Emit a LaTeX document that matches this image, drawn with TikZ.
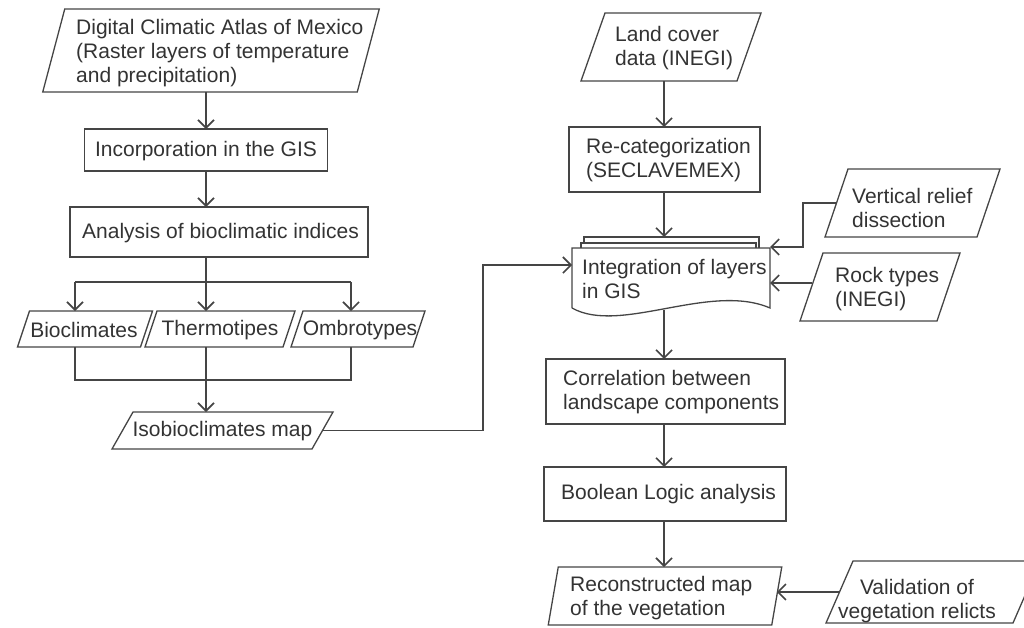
\documentclass[tikz,border=0pt]{standalone}
\usepackage{fontspec}
\setmainfont{Liberation Sans}
\usetikzlibrary{arrows.meta}
\definecolor{ink}{HTML}{333333}
\definecolor{edgec}{HTML}{454545}
\newcommand\paraoutline[2]{\draw[ln] ([xshift=#2pt]#1.north west) -- ([xshift=#2pt]#1.north east) -- ([xshift=-#2pt]#1.south east) -- ([xshift=-#2pt]#1.south west) -- cycle;}
\begin{document}
\begin{tikzpicture}[x=1pt,y=-1pt,
  ln/.style={draw=edgec,line width=1.3pt},
  arr/.style={ln,-{Straight Barb[length=8pt,width=16pt,line width=1.6pt]}},
  txt/.style={inner sep=0pt,text=ink,font=\fontsize{21}{24}\selectfont,align=left},
  shp/.style={inner sep=0pt,outer sep=0pt,draw=none},
  box/.style={inner sep=0pt,outer sep=0pt,ln},
]
\useasboundingbox (0,0) rectangle (1024,627);
\coordinate (cL) at (206,0);
\coordinate (cR) at (664,0);
\coordinate (xb) at (75,0);
\coordinate (xo) at (351,0);
\coordinate (split) at (206,282);
\coordinate (merge) at (206,380);
\coordinate (jx) at (483,0);
\coordinate (vx) at (803,0);

% ---------- left column shapes
\node[shp,minimum width=314.5pt,minimum height=83pt] (atlas) at (211,50.5) {};
\node[box,minimum width=243pt,minimum height=42pt] (inc) at (206,150) {};
\node[box,minimum width=298pt,minimum height=50pt] (ana) at (219,232) {};
\node[shp,minimum width=123pt,minimum height=36pt] (bio) at (85,329) {};
\node[shp,minimum width=138pt,minimum height=36pt] (thermo) at (220,329) {};
\node[shp,minimum width=122pt,minimum height=36pt] (ombro) at (358,329) {};
\node[shp,minimum width=200pt,minimum height=37pt] (iso) at (222.5,430.5) {};
% ---------- right column shapes
\node[shp,minimum width=156pt,minimum height=68pt] (land) at (671,47) {};
\node[box,minimum width=191pt,minimum height=65pt] (recat) at (664.5,159.5) {};
\node[shp,minimum width=198pt,minimum height=60pt] (doc) at (671,278) {};
\node[shp,minimum width=152pt,minimum height=68pt] (vr) at (912.5,203) {};
\node[shp,minimum width=137pt,minimum height=68pt] (rock) at (880,287) {};
\node[box,minimum width=239pt,minimum height=65pt] (corr) at (665.5,391.5) {};
\node[box,minimum width=242pt,minimum height=54pt] (bool) at (665,494) {};
\node[shp,minimum width=223.5pt,minimum height=58pt] (recon) at (665,596) {};
\node[shp,minimum width=187pt,minimum height=62pt] (valid) at (933,592) {};

% outlines
\paraoutline{atlas}{11}
\paraoutline{bio}{6}
\paraoutline{thermo}{6}
\paraoutline{ombro}{6}
\paraoutline{iso}{10.5}
\paraoutline{land}{12}
\paraoutline{vr}{11.5}
\paraoutline{rock}{11.5}
\paraoutline{recon}{5}
\paraoutline{valid}{13.5}
% stacked document
\draw[ln,fill=white] ([xshift=12pt,yshift=-3pt]doc.north west) -- ([xshift=12pt,yshift=11pt]doc.north west) -- ([xshift=-11pt,yshift=11pt]doc.north east) -- ([xshift=-11pt,yshift=-3pt]doc.north east);
\draw[ln,fill=white] ([xshift=9pt,yshift=-3pt]doc.north west) -- ([xshift=9pt,yshift=5pt]doc.north west) -- ([xshift=-14pt,yshift=5pt]doc.north east) -- ([xshift=-14pt,yshift=-3pt]doc.north east);
\draw[ln,fill=white] (doc.south west) -- (doc.north west) -- (doc.north east) -- (doc.south east) .. controls +(-60,-26) and +(48,27) .. (doc.south west);
\coordinate (docin) at ([yshift=13pt]doc.west);
\coordinate (doctop) at ([yshift=11pt]doc.north);
\coordinate (docR) at ([yshift=1pt]doc.north east);

% connectors left
\draw[arr] (atlas.south -| cL) -- (inc.north -| cL);
\draw[arr] (inc.south -| cL) -- (ana.north -| cL);
\draw[ln] (ana.south -| cL) -- (split);
\draw[ln] (split -| xb) -- (split -| xo);
\draw[arr] (split -| xb) -- (bio.north -| xb);
\draw[arr] (split) -- (thermo.north -| cL);
\draw[arr] (split -| xo) -- (ombro.north -| xo);
\draw[ln] (bio.south -| xb) -- (merge -| xb) -- (merge -| xo) -- (ombro.south -| xo);
\draw[arr] (thermo.south -| cL) -- (iso.north -| cL);
\draw[arr] (iso.east) -- (iso.east -| jx) -- (jx |- docin) -- (docin);
% connectors right
\draw[arr] (land.south -| cR) -- (recat.north -| cR);
\draw[arr] (recat.south -| cR) -- (doctop -| cR);
\draw[arr] ([yshift=-2pt]doc.south -| cR) -- (corr.north -| cR);
\draw[arr] (corr.south -| cR) -- (bool.north -| cR);
\draw[arr] (bool.south -| cR) -- (recon.north -| cR);
\draw[arr] (vr.west) -- (vr.west -| vx) -- (vx |- docR) -- (docR);
\draw[arr] ([yshift=4pt]rock.west) -- ([yshift=4pt]rock.west -| doc.east);
\draw[arr] (valid.west) -- (valid.west -| recon.east);

% texts
\node[txt,anchor=west] (atlas-t) at (76,53) {Digital Climatic Atlas of Mexico\\(Raster layers of temperature\\and precipitation)};
\node[txt] (inc-t) at (206,151) {Incorporation in the GIS};
\node[txt,anchor=west] (ana-t) at (82,233) {Analysis of bioclimatic indices};
\node[txt] (bio-t) at (84,330) {Bioclimates};
\node[txt] (thermo-t) at (220,330) {Thermotipes};
\node[txt] (ombro-t) at (360,330) {Ombrotypes};
\node[txt] (iso-t) at (222.5,431) {Isobioclimates map};
\node[txt,anchor=west] (land-t) at (615,48) {Land cover\\data (INEGI)};
\node[txt,anchor=west] (recat-t) at (586,160) {Re-categorization\\(SECLAVEMEX)};
\node[txt,anchor=west] (doc-t) at (582,279) {Integration of layers\\in GIS};
\node[txt,anchor=west] (vr-t) at (852,208) {Vertical relief\\dissection};
\node[txt,anchor=west] (rock-t) at (835,289) {Rock types\\(INEGI)};
\node[txt,anchor=west] (corr-t) at (563,392) {Correlation between\\landscape components};
\node[txt,anchor=west] (bool-t) at (561,494) {Boolean Logic analysis};
\node[txt,anchor=west] (recon-t) at (570,598) {Reconstructed map\\of the vegetation};
\node[txt,align=center] (valid-t) at (917,601) {Validation of\\vegetation relicts};
\end{tikzpicture}
\end{document}
